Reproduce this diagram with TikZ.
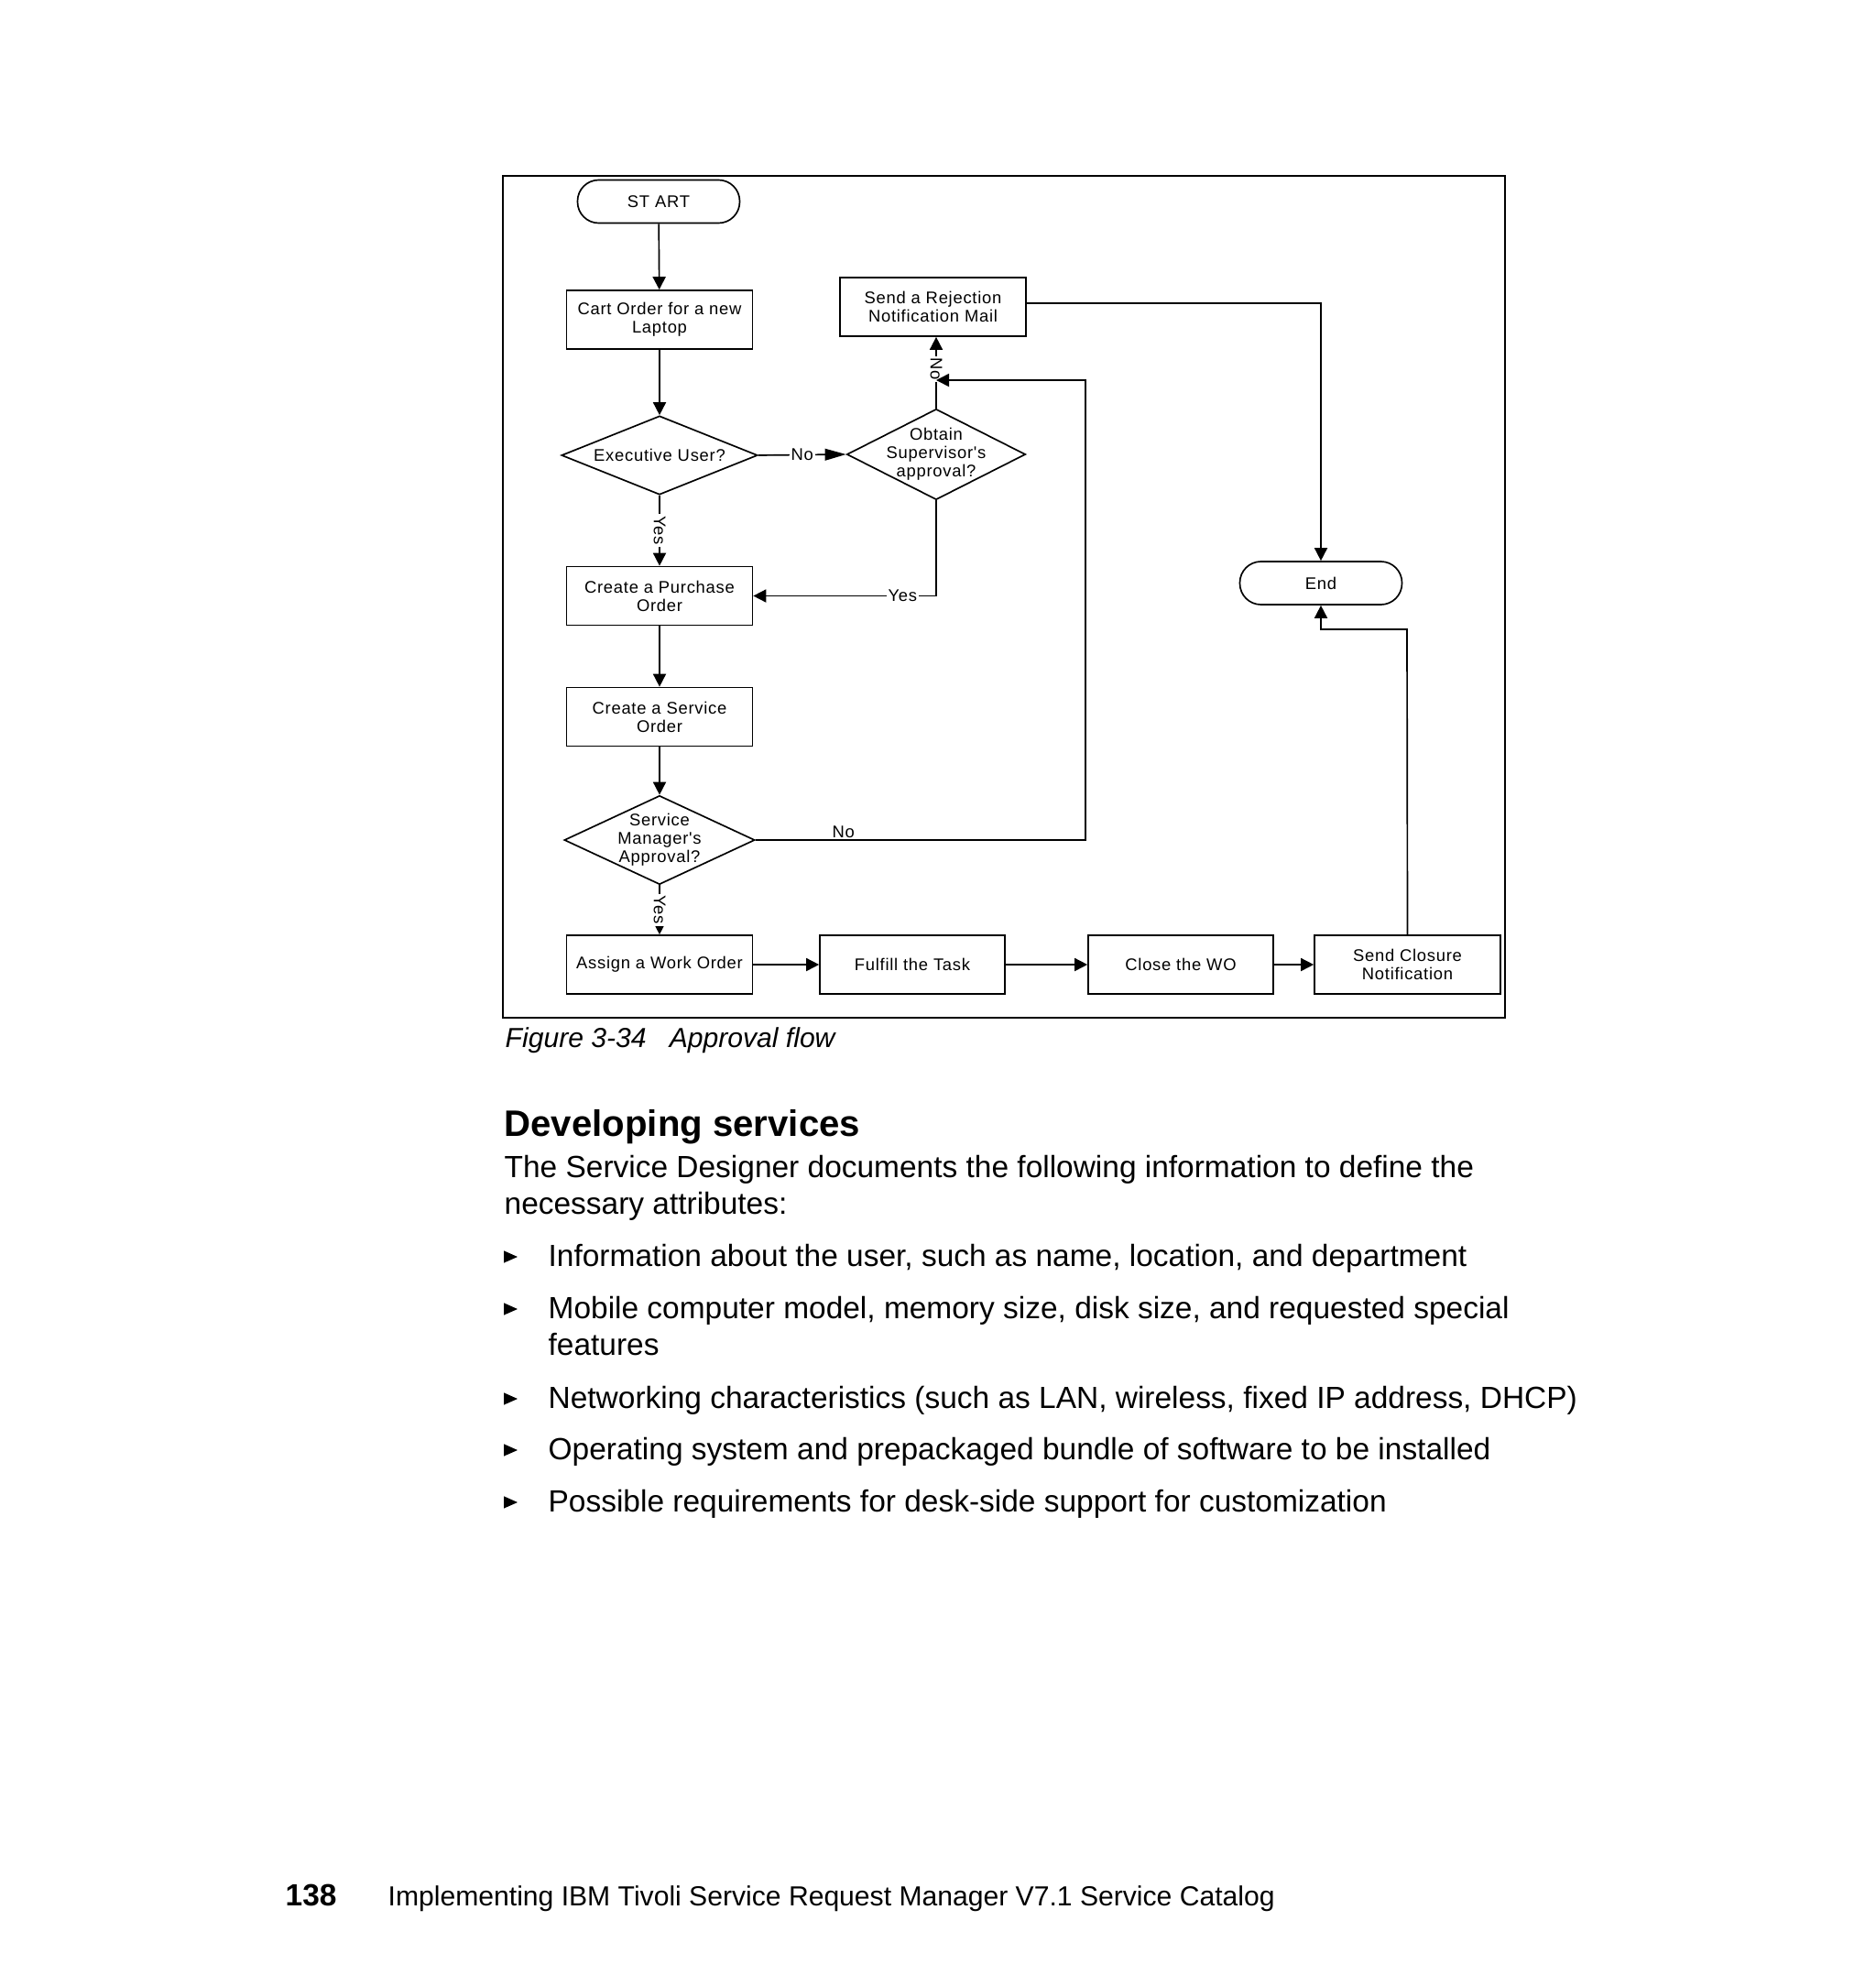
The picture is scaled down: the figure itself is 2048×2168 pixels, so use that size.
\documentclass[tikz,border=0pt]{standalone}
\usepackage{fontspec}
\setmainfont{Liberation Sans}
\newfontfamily\vfont[LetterSpace=4]{Liberation Sans}
\usetikzlibrary{arrows.meta,shapes.geometric}
\newcommand\dfont{\vfont\fontsize{5.5}{6}\selectfont}
\tikzset{
  box/.style={draw, line width=0.5pt, rectangle, minimum width=60.66pt, minimum height=19.13pt, inner sep=0pt, align=center, font=\dfont},
  term/.style={draw, line width=0.5pt, rectangle, rounded corners=6.9pt, minimum width=52.9pt, minimum height=14.05pt, inner sep=0pt, font=\dfont},
  dia/.style={draw, line width=0.5pt, diamond, inner sep=0pt},
  dtext/.style={align=center, font=\dfont, inner sep=0pt},
  lbl/.style={font=\dfont, inner sep=0.6pt, fill=white},
  flow/.style={line width=0.5pt, -{Triangle[length=4.2pt,width=4.2pt]}},
  bigflow/.style={line width=0.5pt, -{Triangle[length=6.9pt,width=3.8pt]}},
  plain/.style={anchor=base west, inner sep=0pt},
}
\begin{document}
\begin{tikzpicture}[x=0.29883pt, y=-0.29883pt]
\useasboundingbox (0,0) rectangle (2048,2168);
\fill[white] (0,0) rectangle (2048,2168);

% frame
\draw[line width=0.75pt] (549,192) rectangle (1643,1111);

% nodes
\node[term] (start) at (719,220) {ST ART};
\node[box] (cart) at (720,349) {Cart Order for a new\\Laptop};
\node[dia, minimum width=63.95pt, minimum height=25.7pt] (exec) at (720,497) {};
\node[dtext] (exect) at (exec) {Executive User?};
\node[dia, minimum width=58.27pt, minimum height=29.58pt] (obtain) at (1022,496) {};
\node[dtext] (obtaint) at (obtain) {Obtain\\Supervisor's\\approval?};
\node[box] (reject) at (1018.5,335) {Send a Rejection\\Notification Mail};
\node[box] (purchase) at (720,650.5) {Create a Purchase\\Order};
\node[box] (service) at (720,782.5) {Create a Service\\Order};
\node[dia, minimum width=62.16pt, minimum height=28.99pt] (sm) at (720,917) {};
\node[dtext] (smt) at (sm) {Service\\Manager's\\Approval?};
\node[box] (assign) at (720,1053) {Assign a Work Order};
\node[box, minimum width=60.36pt] (fulfill) at (996,1053) {Fulfill the Task};
\node[box, minimum width=60.36pt] (close) at (1289,1053) {Close the WO};
\node[box] (closure) at (1536.5,1053) {Send Closure\\Notification};
\node[term] (end) at (1442,636.5) {End};

\coordinate (smr) at (1185,917);
\coordinate (smu) at (1185,415);
\coordinate (clu) at (1536,687);

% connectors
\draw[flow] (start) -- (cart);
\draw[flow] (cart) -- (exec.north);
\draw[flow] (exec.south) -- node[lbl, rotate=-90] (l1) {Yes} (purchase.north);
\draw[bigflow] (exec.east) -- node[lbl] (l2) {No} (obtain.west);
\draw[flow] (obtain.north) -- node[lbl, rotate=-90, pos=0.55] (l3) {No} (obtain.north |- reject.south);
\draw[flow] (obtain.south) |- node[lbl, pos=0.592] (l4) {Yes} (purchase.east);
\draw[flow] (purchase) -- (service);
\draw[flow] (service) -- (sm.north);
\draw[flow] (sm.south) -- node[lbl, rotate=-90] (l5) {Yes} (assign.north);
\draw[flow] (sm.east) -- node[font=\dfont, inner sep=0.5pt, above, pos=0.266] (l6) {No} (smr) -- (smu) -- (obtain.north |- smu);
\draw[flow] ([yshift=1.2pt]reject.east) -| (end.north);
\draw[flow] (closure.north) -- (clu) -| (end.south);
\draw[flow] (assign) -- (fulfill);
\draw[flow] (fulfill) -- (close);
\draw[flow] (close) -- (closure);

% caption and text
\node[plain, font=\fontsize{9}{11}\selectfont\itshape] (cap) at (551,1143) {Figure 3-34\hspace{7.5pt}Approval flow};
\node[plain, font=\fontsize{12}{14}\selectfont\bfseries] (head) at (550,1240) {Developing services};
\node[plain, font=\fontsize{10}{12}\selectfont] (p1) at (550,1285) {The Service Designer documents the following information to define the};
\node[plain, font=\fontsize{10}{12}\selectfont] (p2) at (550,1325) {necessary attributes:};
\foreach \b/\t [count=\i] in {1382/{Information about the user, such as name, location, and department},
  1439/{Mobile computer model, memory size, disk size, and requested special},
  1537/{Networking characteristics (such as LAN, wireless, fixed IP address, DHCP)},
  1593/{Operating system and prepackaged bundle of software to be installed},
  1650/{Possible requirements for desk-side support for customization}}{
  \fill (550,\b-16.7) -- (565,\b-10) -- (550,\b-3.4) -- cycle;
  \node[plain, font=\fontsize{10}{12}\selectfont] (b\i) at (598,\b) {\t};
}
\node[plain, font=\fontsize{10}{12}\selectfont] (b2b) at (598,1479) {features};
\node[plain, font=\fontsize{10}{12}\selectfont\bfseries] (pg) at (311,2080) {138};
\node[plain, font=\fontsize{9}{11}\selectfont] (foot) at (423,2080) {Implementing IBM Tivoli Service Request Manager V7.1 Service Catalog};
\end{tikzpicture}
\end{document}
